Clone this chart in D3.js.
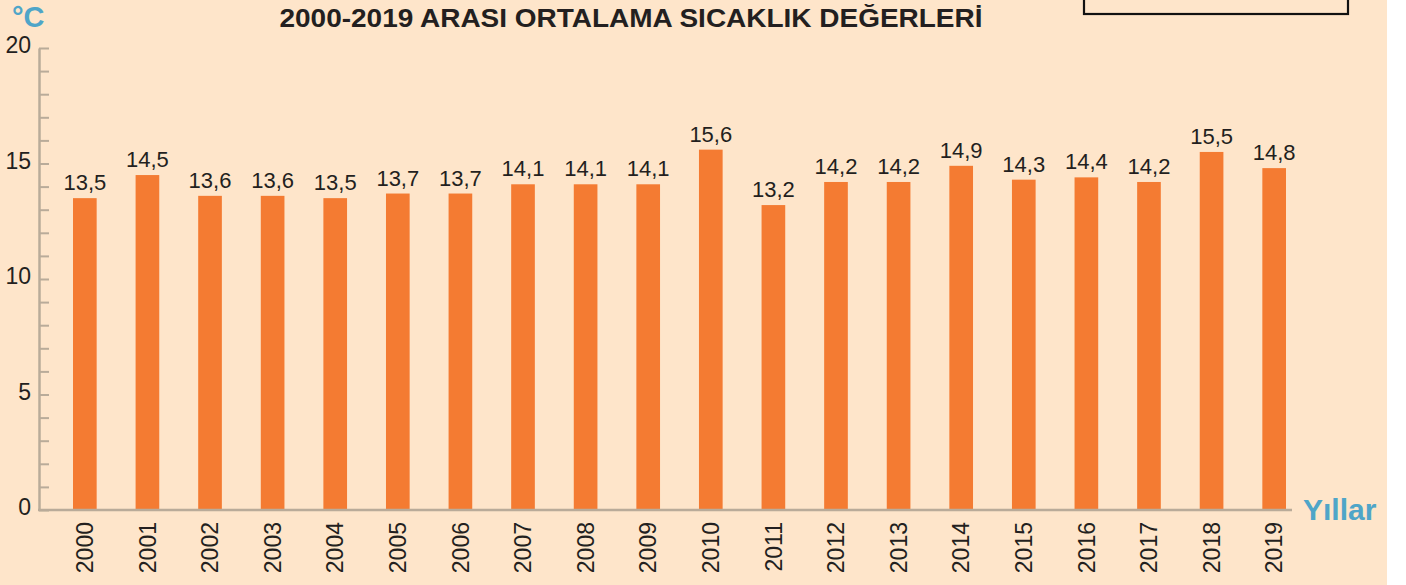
<!DOCTYPE html>
<html>
<head>
<meta charset="utf-8">
<script src="https://cdn.jsdelivr.net/npm/d3@7"></script>
<style>
  html, body { margin: 0; padding: 0; background: #ffffff; }
  svg { display: block; font-family: "Liberation Sans", Arial, sans-serif; }
</style>
</head>
<body>
<div id="chart"></div>
<script>
// Data
const years = ['2000','2001','2002','2003','2004','2005','2006','2007','2008','2009',
               '2010','2011','2012','2013','2014','2015','2016','2017','2018','2019'];
const temps = [13.5, 14.5, 13.6, 13.6, 13.5, 13.7, 13.7, 14.1, 14.1, 14.1,
               15.6, 13.2, 14.2, 14.2, 14.9, 14.3, 14.4, 14.2, 15.5, 14.8];
const yTicks = [0, 5, 10, 15, 20];
const titleText = '2000-2019 ARASI ORTALAMA SICAKLIK DEĞERLERİ';

const width = 1406;
const height = 585;
const bg = '#fee5ca';
const barColor = '#f47b32';
const axisColor = '#b9ab99';
const textColor = '#231f20';
const blue = '#4fa5c8';

const svg = d3.select('#chart').append('svg')
    .attr('width', width)
    .attr('height', height);

// Peach panel
svg.append('rect')
    .attr('x', 0).attr('y', 0)
    .attr('width', 1387).attr('height', height)
    .attr('fill', bg);

// Box peeking in at the top right
svg.append('rect')
    .attr('x', 1084).attr('y', -20)
    .attr('width', 264).attr('height', 34)
    .attr('fill', bg)
    .attr('stroke', '#111')
    .attr('stroke-width', 2.2);

const x = d3.scaleBand()
    .domain(years)
    .range([73, 1286])
    .paddingInner(0.622)
    .paddingOuter(0);

const y = d3.scaleLinear()
    .domain([0, 20])
    .range([510, 48]);

// Y axis (ticks point inward)
const yAxis = svg.append('g')
    .attr('transform', 'translate(39,0)')
    .call(d3.axisLeft(y)
        .tickValues(d3.range(0, 21, 1))
        .tickSizeInner(-10)
        .tickSizeOuter(0)
        .tickPadding(8)
        .tickFormat(d => yTicks.includes(d) ? d : ''));

yAxis.select('.domain').attr('stroke', axisColor).attr('stroke-width', 2.5);
yAxis.selectAll('.tick line').attr('stroke', axisColor).attr('stroke-width', 2);
yAxis.selectAll('.tick text')
    .attr('fill', textColor)
    .attr('font-size', 23)
    .attr('dy', '0.2em')
    .style('font-family', '"Liberation Sans", Arial, sans-serif');

// Bars
svg.append('g').selectAll('rect')
    .data(temps)
    .enter()
    .append('rect')
    .attr('x', (d, i) => x(years[i]))
    .attr('y', d => y(d))
    .attr('width', x.bandwidth())
    .attr('height', d => y(0) - y(d))
    .attr('fill', barColor);

// Baseline
svg.append('line')
    .attr('x1', 38).attr('x2', 1292)
    .attr('y1', y(0)).attr('y2', y(0))
    .attr('stroke', axisColor)
    .attr('stroke-width', 2.5);

// Value labels
svg.append('g').selectAll('text')
    .data(temps)
    .enter()
    .append('text')
    .attr('x', (d, i) => x(years[i]) + x.bandwidth() / 2)
    .attr('y', d => y(d) - 8)
    .attr('text-anchor', 'middle')
    .attr('font-size', 22)
    .attr('fill', textColor)
    .text(d => d.toFixed(1).replace('.', ','));

// Year labels (rotated)
svg.append('g').selectAll('text')
    .data(years)
    .enter()
    .append('text')
    .attr('transform', d => `translate(${x(d) + x.bandwidth() / 2},522) rotate(-90)`)
    .attr('dy', '0.36em')
    .attr('text-anchor', 'end')
    .attr('font-size', 23)
    .attr('fill', textColor)
    .text(d => d);

// Title
svg.append('text')
    .attr('x', 631)
    .attr('y', 27)
    .attr('text-anchor', 'middle')
    .attr('font-size', 26)
    .attr('font-weight', 'bold')
    .attr('fill', textColor)
    .attr('textLength', 703)
    .attr('lengthAdjust', 'spacingAndGlyphs')
    .text(titleText);

// Unit labels
svg.append('text')
    .attr('x', 12)
    .attr('y', 27)
    .attr('font-size', 29)
    .attr('font-weight', 'bold')
    .attr('fill', blue)
    .text('°C');

svg.append('text')
    .attr('x', 1303)
    .attr('y', 520)
    .attr('font-size', 30)
    .attr('font-weight', 'bold')
    .attr('fill', blue)
    .text('Yıllar');
</script>
</body>
</html>
